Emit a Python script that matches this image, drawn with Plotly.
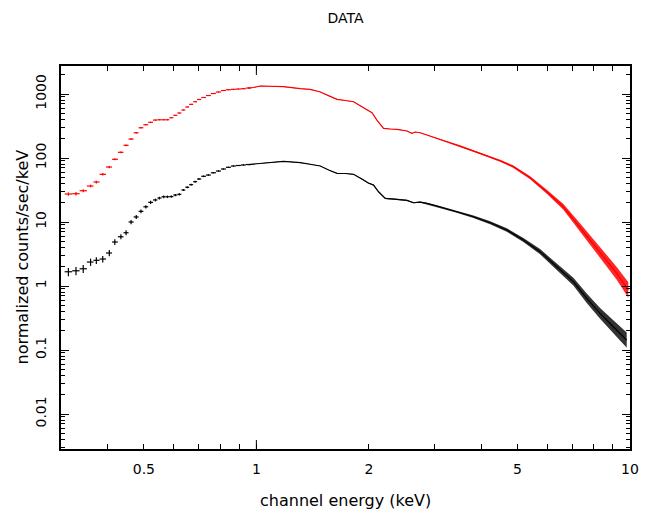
import numpy as np
import plotly.graph_objects as go

# ---------------- data ----------------
# low-energy channels drawn as error-bar crosses (keV)
e_low = [0.314, 0.329, 0.344, 0.360, 0.373, 0.388, 0.404, 0.418, 0.434, 0.448,
         0.462, 0.477, 0.491, 0.506, 0.521, 0.537, 0.550, 0.565, 0.578, 0.592,
         0.607, 0.622, 0.638, 0.653, 0.669, 0.686, 0.702, 0.722, 0.744, 0.767,
         0.792, 0.816, 0.842, 0.868, 0.895, 0.923, 0.952]
red_low = [27.4, 27.7, 30.8, 36.5, 42.2, 55.6, 72.3, 95.4, 122.8, 157.9,
           198, 248, 297, 331, 361, 392, 396, 396, 396, 426,
           465, 505, 562, 627, 690, 758, 821, 882, 947, 1018,
           1075, 1134, 1167, 1184, 1197, 1210, 1240]
red_low_err = [0.06, 0.06, 0.055, 0.05, 0.05, 0.045, 0.04, 0.035, 0.03, 0.03,
               0.025, 0.025, 0.02, 0.02, 0.02, 0.015, 0.015, 0.015, 0.015, 0.012,
               0.012, 0.012, 0.01, 0.01, 0.01, 0.01, 0.01, 0.01, 0.01, 0.01,
               0.01, 0.01, 0.01, 0.01, 0.01, 0.01, 0.01]
black_low = [1.67, 1.73, 1.86, 2.37, 2.52, 2.64, 3.28, 4.87, 5.89, 6.80,
             10.0, 12.0, 14.7, 17.3, 20.3, 22.1, 23.7, 24.8, 24.8, 25.0,
             26.4, 27.1, 31.6, 34.9, 38.3, 42.7, 47.0, 51.8, 54.2, 58.9,
             62.6, 67.3, 71.6, 75.0, 76.4, 77.8, 79.1]
black_low_err = [0.15, 0.15, 0.14, 0.13, 0.12, 0.12, 0.11, 0.10, 0.09, 0.09,
                 0.08, 0.07, 0.07, 0.06, 0.06, 0.05, 0.05, 0.05, 0.045, 0.04,
                 0.04, 0.04, 0.035, 0.035, 0.03, 0.03, 0.03, 0.03, 0.025, 0.025,
                 0.025, 0.02, 0.02, 0.02, 0.02, 0.02, 0.02]

# higher-energy channels drawn as a continuous trace with channel scatter (dex)
red_e = [0.952, 0.982, 1.025, 1.068, 1.183, 1.311, 1.394, 1.483, 1.561, 1.644,
         1.730, 1.820, 1.917, 1.968, 2.039, 2.102, 2.145, 2.190, 2.282, 2.378,
         2.529, 2.608, 2.661, 2.745, 2.861, 3.043, 3.302, 3.512, 3.972, 4.491,
         4.876, 5.404, 5.988, 6.632, 7.203, 7.817, 8.484, 9.214, 9.897]
red_val = [1240, 1263, 1334, 1318, 1300, 1210, 1184, 1075, 931, 827,
           791, 758, 634, 573, 511, 392, 334, 291, 284, 281,
           264, 243, 255, 248, 229, 203, 173, 154, 118, 90.8,
           73.1, 49.2, 29.7, 17.3, 9.55, 5.23, 2.87, 1.58, 0.866]
red_spread = [0.003, 0.003, 0.003, 0.003, 0.003, 0.003, 0.003, 0.003, 0.003, 0.003,
              0.003, 0.003, 0.003, 0.003, 0.003, 0.003, 0.003, 0.003, 0.003, 0.003,
              0.003, 0.003, 0.003, 0.003, 0.003, 0.006, 0.008, 0.010, 0.012, 0.015,
              0.018, 0.024, 0.032, 0.045, 0.058, 0.072, 0.085, 0.100, 0.120]

black_e = [0.952, 0.982, 1.025, 1.068, 1.183, 1.311, 1.394, 1.483, 1.561, 1.644,
           1.730, 1.820, 1.936, 1.993, 2.059, 2.123, 2.213, 2.282, 2.378, 2.529,
           2.634, 2.745, 2.861, 3.043, 3.302, 3.440, 3.811, 4.224, 4.680, 5.184,
           5.745, 6.368, 7.053, 7.660, 8.315, 9.023, 9.800]
black_val = [79.1, 80.6, 83.5, 84.5, 88.8, 84.5, 80.6, 75.0, 64.9, 57.7,
             57.3, 55.6, 45.3, 40.7, 37.8, 29.7, 23.4, 22.8, 22.6, 21.8,
             20.0, 20.5, 19.6, 17.8, 15.4, 14.5, 12.1, 9.75, 7.50, 5.23,
             3.44, 2.00, 1.17, 0.643, 0.374, 0.231, 0.143]
black_spread = [0.004, 0.004, 0.004, 0.004, 0.004, 0.004, 0.004, 0.004, 0.004, 0.004,
                0.004, 0.004, 0.009, 0.009, 0.009, 0.009, 0.009, 0.009, 0.009, 0.009,
                0.009, 0.009, 0.010, 0.012, 0.014, 0.016, 0.020, 0.024, 0.028, 0.032,
                0.040, 0.050, 0.062, 0.075, 0.085, 0.100, 0.120]

x_tick_vals = [0.5, 1, 2, 5, 10]
x_tick_text = ["0.5", "1", "2", "5", "10"]
x_minor_vals = [0.3, 0.4, 0.6, 0.7, 0.8, 0.9, 3, 4, 6, 7, 8, 9]
y_tick_vals = [0.01, 0.1, 1, 10, 100, 1000]
y_tick_text = ["0.01", "0.1", "1", "10", "100", "1000"]

title_text = "DATA"
x_title = "channel energy (keV)"
y_title = "normalized counts/sec/keV"

RED = "#ff0000"
BLACK = "#000000"
FONT = "DejaVu Sans"


def bin_half_widths(e):
    e = np.asarray(e, dtype=float)
    edges = np.sqrt(e[:-1] * e[1:])
    lo = np.concatenate([[e[0] ** 2 / edges[0]], edges])
    hi = np.concatenate([edges, [e[-1] ** 2 / edges[-1]]])
    return e - lo, hi - e


fig = go.Figure()

xm, xp = bin_half_widths(e_low)
for color, fill, yl, el, e, v, s in [
    (BLACK, "rgba(0,0,0,0.8)", black_low, black_low_err, black_e, black_val, black_spread),
    (RED, "rgba(255,0,0,0.85)", red_low, red_low_err, red_e, red_val, red_spread),
]:
    yl = np.asarray(yl, float)
    el = np.asarray(el, float)
    fig.add_trace(go.Scatter(
        x=e_low, y=yl, mode="markers",
        marker=dict(size=1, color=color),
        error_x=dict(type="data", symmetric=False, array=xp, arrayminus=xm,
                     color=color, thickness=1.2, width=0),
        error_y=dict(type="data", array=yl * el, color=color, thickness=1.2, width=0),
        hoverinfo="skip", showlegend=False,
    ))
    v = np.asarray(v, float)
    s = np.asarray(s, float)
    upper = v * 10 ** s
    lower = v * 10 ** (-s)
    fig.add_trace(go.Scatter(
        x=list(e) + list(e)[::-1], y=list(upper) + list(lower)[::-1],
        mode="lines", fill="toself", fillcolor=fill, line=dict(width=0),
        hoverinfo="skip", showlegend=False,
    ))
    fig.add_trace(go.Scatter(
        x=e, y=v, mode="lines", line=dict(color=color, width=1.2),
        hoverinfo="skip", showlegend=False,
    ))

y_minor = [k * 10.0 ** n for n in range(-3, 4) for k in range(2, 10)]

axis_common = dict(
    type="log", showline=True, linecolor="black", linewidth=1.5, mirror="ticks",
    ticks="inside", tickcolor="black", tickwidth=1, showgrid=False, zeroline=False,
    tickfont=dict(family=FONT, size=14, color="black"),
)

fig.update_layout(
    width=652, height=529,
    margin=dict(l=61, r=22, t=66, b=80),
    paper_bgcolor="white", plot_bgcolor="white",
    showlegend=False,
    title=dict(text=title_text, x=0.5, xref="paper", xanchor="center",
               y=1 - 18 / 529, yref="container", yanchor="middle",
               font=dict(family=FONT, size=14, color="black")),
    xaxis=dict(axis_common, range=[np.log10(0.3), 1.0],
               tickmode="array", tickvals=x_tick_vals, ticktext=x_tick_text, ticklen=5,
               ticklabelstandoff=6,
               minor=dict(tickmode="array", tickvals=x_minor_vals, ticklen=5,
                          ticks="inside", tickcolor="black", tickwidth=1, showgrid=False)),
    yaxis=dict(axis_common, range=[np.log10(0.00284), np.log10(2740)],
               tickmode="array", tickvals=y_tick_vals, ticktext=y_tick_text, ticklen=8,
               tickangle=-90, ticklabelstandoff=8,
               minor=dict(tickmode="array", tickvals=y_minor, ticklen=4,
                          ticks="inside", tickcolor="black", tickwidth=1, showgrid=False)),
    annotations=[
        dict(text=x_title, xref="paper", yref="paper", x=0.5, y=0, xanchor="center",
             yanchor="middle", yshift=-51, showarrow=False,
             font=dict(family=FONT, size=16, color="black")),
        dict(text=y_title, xref="paper", yref="paper", x=0, y=0.5, xanchor="center",
             yanchor="middle", xshift=-39, textangle=-90, showarrow=False,
             font=dict(family=FONT, size=16, color="black")),
    ],
    shapes=[
        dict(type="line", xref="x", yref="paper", x0=1, x1=1, ysizemode="pixel",
             yanchor=0, y0=0, y1=9, line=dict(color="black", width=1)),
        dict(type="line", xref="x", yref="paper", x0=1, x1=1, ysizemode="pixel",
             yanchor=1, y0=0, y1=-9, line=dict(color="black", width=1)),
    ],
)

fig.write_html("out.html")
